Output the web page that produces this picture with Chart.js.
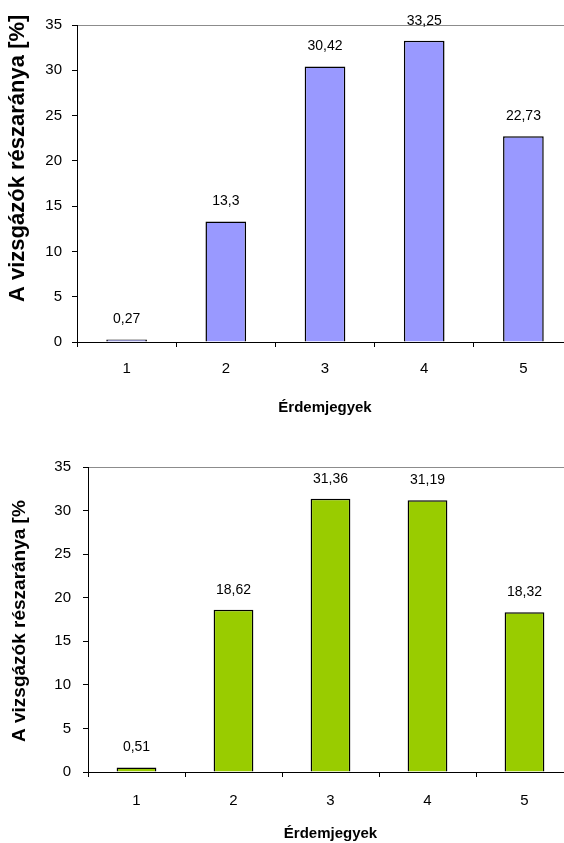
<!DOCTYPE html>
<html lang="hu">
<head>
  <meta charset="UTF-8">
  <title>Érdemjegyek</title>
  <script src="https://cdn.jsdelivr.net/npm/chart.js"></script>
  <style>
    html, body { margin: 0; padding: 0; background: #fff; overflow: hidden; }
    .box { position: absolute; left: 0; }
    #top { top: 0; }
    #bottom { top: 420px; }
  </style>
</head>
<body>
  <div class="box" id="top"><canvas id="chart1" width="576" height="420"></canvas></div>
  <div class="box" id="bottom"><canvas id="chart2" width="576" height="423"></canvas></div>

  <script>
    // data
    const grades = ['1', '2', '3', '4', '5'];
    const shareTop = [0.27, 13.3, 30.42, 33.25, 22.73];
    const shareBottom = [0.51, 18.62, 31.36, 31.19, 18.32];
    const yTicks = [0, 5, 10, 15, 20, 25, 30, 35];
    const xTitle = 'Érdemjegyek';
    const yTitle = 'A vizsgázók részaránya [%]';

    const FONT = '"Liberation Sans", Arial, sans-serif';

    // value labels above each bar, decimal comma
    const valueLabels = {
      id: 'valueLabels',
      afterDatasetsDraw(chart) {
        const ctx = chart.ctx;
        ctx.save();
        ctx.font = '14px ' + FONT;
        ctx.fillStyle = '#000';
        ctx.textAlign = 'center';
        ctx.textBaseline = 'middle';
        chart.getDatasetMeta(0).data.forEach((bar, i) => {
          const v = chart.data.datasets[0].data[i];
          ctx.fillText(String(v).replace('.', ','), bar.x, bar.y - 20);
        });
        ctx.restore();
      }
    };

    // rotated y title, clipped at the top like the original
    const sideTitle = {
      id: 'sideTitle',
      afterDraw(chart, args, opts) {
        const ctx = chart.ctx;
        ctx.save();
        ctx.beginPath();
        ctx.rect(0, opts.clipTop, 60, chart.height);
        ctx.clip();
        ctx.translate(opts.x, opts.start);
        ctx.rotate(-Math.PI / 2);
        ctx.font = 'bold ' + opts.size + 'px ' + FONT;
        ctx.fillStyle = '#000';
        ctx.textAlign = 'left';
        ctx.textBaseline = 'middle';
        ctx.fillText(yTitle, 0, 0);
        ctx.restore();
      }
    };

    function makeChart(id, values, color, cfg) {
      const ctx = document.getElementById(id).getContext('2d');
      return new Chart(ctx, {
        type: 'bar',
        data: {
          labels: grades,
          datasets: [{
            data: values,
            backgroundColor: color,
            borderColor: '#000',
            borderWidth: 1.5,
            categoryPercentage: 1,
            barPercentage: 0.41
          }]
        },
        options: {
          responsive: false,
          animation: false,
          devicePixelRatio: 1,
          layout: { padding: { top: cfg.padTop, left: 0, right: 3, bottom: 0 } },
          plugins: {
            legend: { display: false },
            tooltip: { enabled: false },
            sideTitle: cfg.side
          },
          scales: {
            x: {
              grid: {
                color: 'transparent',
                tickColor: '#000',
                tickLength: 5,
                offset: true
              },
              border: { color: '#000', width: 1 },
              ticks: { color: '#000', padding: cfg.xPad, font: { family: FONT, size: 15 } },
              title: {
                display: true,
                text: xTitle,
                color: '#000',
                padding: { top: 0, bottom: cfg.titlePad },
                font: { family: FONT, size: 15, weight: 'bold' }
              },
              afterFit(scale) { scale.height = cfg.xHeight; }
            },
            y: {
              min: 0,
              max: 35,
              afterBuildTicks(scale) { scale.ticks = yTicks.map(v => ({ value: v })); },
              grid: {
                color: c => (c.tick && c.tick.value === 35 ? '#8c8c8c' : 'transparent'),
                tickColor: '#000',
                tickLength: 5
              },
              border: { color: '#000', width: 1 },
              ticks: { color: '#000', padding: cfg.yPad, font: { family: FONT, size: 15 } },
              afterFit(scale) { scale.width = cfg.yWidth; }
            }
          }
        },
        plugins: [valueLabels, sideTitle]
      });
    }

    makeChart('chart1', shareTop, '#9999ff', {
      padTop: 25, xHeight: 78, yWidth: 77, yPad: 10, xPad: 13, titlePad: 3,
      side: { x: 18, start: 302, clipTop: 15, size: 22 }
    });
    makeChart('chart2', shareBottom, '#99cc00', {
      padTop: 47, xHeight: 71, yWidth: 88, yPad: 12, xPad: 15, titlePad: 0,
      side: { x: 20, start: 322, clipTop: 80, size: 19 }
    });
  </script>
</body>
</html>
